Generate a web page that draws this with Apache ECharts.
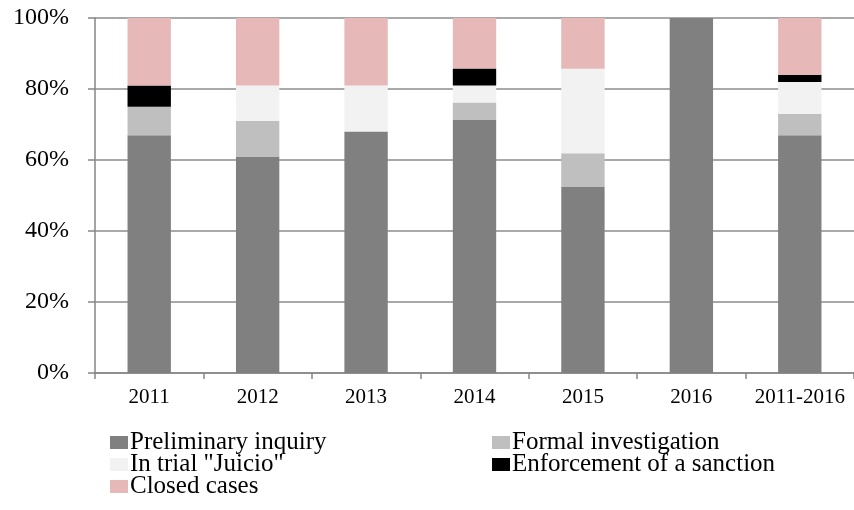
<!DOCTYPE html>
<html>
<head>
<meta charset="utf-8">
<script src="https://cdn.jsdelivr.net/npm/echarts@6/dist/echarts.min.js"></script>
<style>
html,body{margin:0;padding:0;background:#fff;}
#chart{width:854px;height:510px;}
</style>
</head>
<body>
<div id="chart"></div>
<script>
var categories = ['2011', '2012', '2013', '2014', '2015', '2016', '2011-2016'];
var seriesNames = ['Preliminary inquiry', 'Formal investigation', 'In trial "Juicio"', 'Enforcement of a sanction', 'Closed cases'];
var preliminaryInquiry = [67, 61, 68, 71.4, 52.4, 100, 67];
var formalInvestigation = [8, 10, 0, 4.8, 9.5, 0, 6];
var inTrial = [0, 10, 13, 4.8, 23.8, 0, 9];
var enforcementSanction = [6, 0, 0, 4.8, 0, 0, 2];
var closedCases = [19, 19, 19, 14.3, 14.3, 0, 16];
var yTicks = [0, 20, 40, 60, 80, 100];

var colors = ['#808080', '#BFBFBF', '#F2F2F2', '#000000', '#E6B9B8'];
var values = [preliminaryInquiry, formalInvestigation, inTrial, enforcementSanction, closedCases];
var font = "'Liberation Serif', 'Times New Roman', serif";

var chart = echarts.init(document.getElementById('chart'), null, {renderer: 'canvas'});
var series = seriesNames.map(function (name, i) {
  return {
    name: name,
    type: 'bar',
    stack: 'total',
    barWidth: '40%',
    data: values[i],
    itemStyle: {color: colors[i]},
    emphasis: {disabled: true}
  };
});

var legendCommon = {
  orient: 'vertical',
  itemWidth: 18,
  itemHeight: 13,
  itemGap: -3,
  icon: 'rect',
  selectedMode: false,
  padding: 0,
  textStyle: {fontFamily: font, fontSize: 25, color: '#000', lineHeight: 21, padding: [0, 0, 0, -3]}
};

chart.setOption({
  animation: false,
  color: colors,
  grid: {left: 95, right: -6, top: 18, bottom: 137, containLabel: false},
  legend: [
    Object.assign({}, legendCommon, {left: 110, top: 430, data: [seriesNames[0], seriesNames[2], seriesNames[4]]}),
    Object.assign({}, legendCommon, {left: 492, top: 430, data: [seriesNames[1], seriesNames[3]]})
  ],
  xAxis: {
    type: 'category',
    data: categories,
    axisLine: {show: true, lineStyle: {color: '#868686', width: 1.5}},
    axisTick: {show: true, length: 6, inside: false, lineStyle: {color: '#868686', width: 1.5}},
    axisLabel: {fontFamily: font, fontSize: 21, color: '#000', margin: 14, interval: 0}
  },
  yAxis: {
    type: 'value',
    min: yTicks[0],
    max: yTicks[yTicks.length - 1],
    interval: 20,
    axisLine: {show: true, lineStyle: {color: '#868686', width: 1.5}},
    axisTick: {show: true, length: 7, lineStyle: {color: '#868686', width: 1.5}},
    axisLabel: {fontFamily: font, fontSize: 24, color: '#000', margin: 26, formatter: '{value}%'},
    splitLine: {show: true, lineStyle: {color: '#8C8C8C', width: 1.5}}
  },
  series: series
});
</script>
</body>
</html>
